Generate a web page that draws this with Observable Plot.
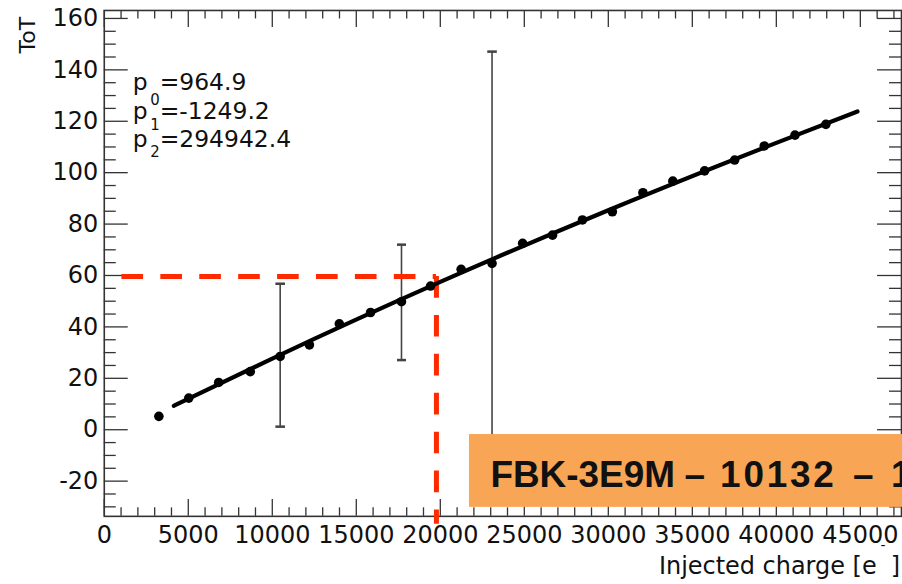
<!DOCTYPE html>
<html><head><meta charset="utf-8">
<script src="https://cdn.jsdelivr.net/npm/d3@7"></script>
<script src="https://cdn.jsdelivr.net/npm/@observablehq/plot@0.6"></script>
<style>
html,body{margin:0;padding:0;background:#fff;overflow:hidden;}
#chart{position:relative;width:902px;height:584px;overflow:hidden;}
svg{display:block;}
</style></head><body><div id="chart"></div>
<script>
// measured points
const charge = [3250,5030,6810,8690,10470,12210,13990,15850,17690,19420,21240,23080,24900,26680,28460,30240,32060,33840,35730,37520,39280,41110,42950];
const tot    = [5.2,12.3,18.4,22.6,28.5,33.0,41.2,45.6,49.8,55.9,62.4,64.7,72.5,75.7,81.6,84.8,92.2,96.7,100.7,104.9,110.4,114.6,118.8];
// large error bars
const errCharge = [10470,17690,23080];
const errLow    = [1.0,26.9,-17.5];
const errHigh   = [56.6,71.8,146.9];
// fit curve
const fitCharge = [4140,10000,20000,30000,40000,44830];
const fitToT    = [9.3,27.7,57.5,85.4,111.6,123.8];
// fit parameters
const paramIndex = ["0","1","2"];
const paramValue = ["964.9","-1249.2","294942.4"];
// threshold annotation
const thresholdToT = [59.6];
const thresholdCharge = [19770];
const thresholdFrom = [1050];
const thresholdBottom = [-36.8];
// ticks
const xMajor = [0,5000,10000,15000,20000,25000,30000,35000,40000,45000];
const xMinor = d3.range(0,47001,1000).filter(v=>v%5000!==0);
const yMajor = [-20,0,20,40,60,80,100,120,140,160];
const yMinor = d3.range(-30,161,5).filter(v=>v%20!==0);
const xTitleParts = ["Injected charge [e", "-", "]"];
const yTitle = "ToT";
const boxParts = ["FBK-3E9M", "\u2013", "10132", "\u2013", "1"];

const points = charge.map((c,i)=>({c, t:tot[i]}));
const errs = errCharge.map((c,i)=>({c, lo:errLow[i], hi:errHigh[i]}));
const fit = fitCharge.map((c,i)=>({c, t:fitToT[i]}));

const W=904,H=584,mL=104,mR=1,mT=10,mB=67;
const pw=W-mL-mR, ph=H-mT-mB;
const axisCol="#333";
const red="#ff2a00";
const font="DejaVu Sans";

const plot = Plot.plot({
  width:W,height:H,marginLeft:mL,marginRight:mR,marginTop:mT,marginBottom:mB,
  x:{domain:[0,47450],axis:null},
  y:{domain:[-33.7,163.1],axis:null},
  style:{fontFamily:font,background:"white",color:"black"},
  marks:[
    Plot.ruleX(xMajor,{x:d=>d,insetTop:ph-17,stroke:axisCol,strokeWidth:1.3}),
    Plot.ruleX(xMinor,{x:d=>d,insetTop:ph-8.5,stroke:axisCol,strokeWidth:1.3}),
    Plot.ruleX(xMajor,{x:d=>d,insetBottom:ph-17,stroke:axisCol,strokeWidth:1.3}),
    Plot.ruleX(xMinor,{x:d=>d,insetBottom:ph-8.5,stroke:axisCol,strokeWidth:1.3}),
    Plot.ruleY(yMajor,{y:d=>d,insetRight:pw-24,stroke:axisCol,strokeWidth:1.3}),
    Plot.ruleY(yMinor,{y:d=>d,insetRight:pw-12,stroke:axisCol,strokeWidth:1.3}),
    Plot.ruleY(yMajor,{y:d=>d,insetLeft:pw-24,stroke:axisCol,strokeWidth:1.3}),
    Plot.ruleY(yMinor,{y:d=>d,insetLeft:pw-12,stroke:axisCol,strokeWidth:1.3}),
    Plot.frame({stroke:axisCol,strokeWidth:1.6}),
    Plot.text(xMajor,{x:d=>d,frameAnchor:"bottom",dy:19,text:d=>String(d),fontSize:24,lineAnchor:"middle",fill:"#111"}),
    Plot.text(yMajor,{y:d=>d,frameAnchor:"left",dx:-6,textAnchor:"end",text:d=>String(d),fontSize:24,lineAnchor:"middle",fill:"#111"}),
    Plot.ruleX(errs,{x:"c",y1:"lo",y2:"hi",stroke:"#444",strokeWidth:1.6,markerStart:"tick",markerEnd:"tick"}),
    Plot.ruleY(thresholdToT,{y:d=>d,x1:()=>thresholdFrom[0],x2:()=>thresholdCharge[0],stroke:red,strokeWidth:5,strokeDasharray:"21.7,17.3"}),
    Plot.ruleX(thresholdCharge,{x:d=>d,y1:()=>thresholdToT[0],y2:()=>thresholdBottom[0],stroke:red,strokeWidth:5,strokeDasharray:"21.7,17.3"}),
    Plot.line(fit,{x:"c",y:"t",stroke:"black",strokeWidth:4.2,curve:"monotone-x"}),
    Plot.dot(points,{x:"c",y:"t",r:4.8,fill:"black"})
  ]
});

const svg = d3.select(plot);
// y title
svg.append("text").attr("transform","translate(35,17) rotate(-90)")
  .attr("text-anchor","end").attr("font-family",font).attr("font-size",22).attr("fill","#111").text(yTitle);
// x title (one text chunk with a raised minus)
const xt = svg.append("text").attr("x",902).attr("y",575).attr("text-anchor","end")
  .attr("font-family",font).attr("font-size",24).attr("fill","#111");
xt.append("tspan").text(xTitleParts[0]);
xt.append("tspan").attr("dx",4).attr("dy",-24).attr("font-size",14).text(xTitleParts[1]);
xt.append("tspan").attr("dx",5).attr("dy",24).text(xTitleParts[2]);
// fit params
const baselines=[90,119,147], subBase=[105,130,157];
paramIndex.forEach((p,i)=>{
  const t = svg.append("text").attr("text-anchor","start").attr("font-family",font).attr("font-size",23.5).attr("fill","#111");
  t.append("tspan").attr("x",133).attr("y",baselines[i]).text("p");
  t.append("tspan").attr("x",150.5).attr("y",subBase[i]).attr("font-size",15).text(p);
  t.append("tspan").attr("x",160).attr("y",baselines[i]).text("="+paramValue[i]);
});
// orange label
svg.append("rect").attr("x",470).attr("y",435).attr("width",440).attr("height",73).attr("fill","#f8a656");
const bt = svg.append("text").attr("y",488).attr("text-anchor","start").attr("font-family","Liberation Sans")
  .attr("font-weight","bold").attr("font-size",37).attr("fill","#111");
const partX = [491.5, 686, 721.7, 855, 893];
boxParts.forEach((s,i)=>{
  const ts = bt.append("tspan").attr("x",partX[i]).text(s);
  if (s==="10132") ts.attr("letter-spacing","2.8");
});

document.getElementById("chart").appendChild(plot);
</script></body></html>
